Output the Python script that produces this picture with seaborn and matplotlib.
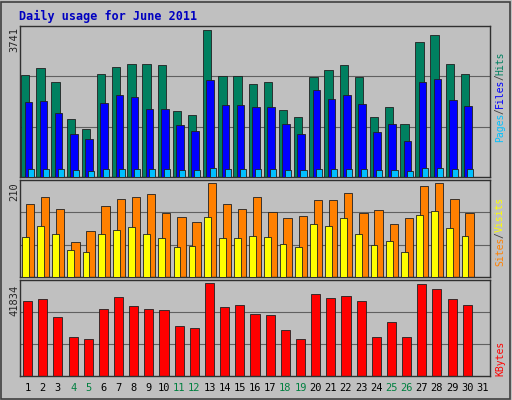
import numpy as np
import pandas as pd
import matplotlib
matplotlib.use('Agg')
import matplotlib.pyplot as plt
import seaborn as sns

days = [str(d) for d in range(1, 32)]
weekend = ['4', '5', '11', '12', '18', '19', '25', '26']

hits = [2611, 2790, 2432, 1485, 1229, 2637, 2816, 2893, 2893, 2867, 1690, 1587, 3741, 2586, 2586,
        2381, 2432, 1715, 1536, 2560, 2739, 2867, 2560, 1536, 1792, 1357, 3456, 3635, 2893, 2637]
files = [1920, 1946, 1638, 1101, 973, 1894, 2099, 2048, 1741, 1741, 1331, 1178, 2483, 1843, 1843,
         1792, 1792, 1357, 1101, 2227, 1997, 2099, 1869, 1152, 1357, 922, 2432, 2509, 1971, 1818]
pages = [200, 210, 195, 170, 160, 205, 215, 210, 200, 205, 180, 175, 230, 200, 205,
         195, 200, 180, 170, 210, 205, 215, 200, 170, 185, 160, 225, 230, 210, 200]
sites = [162, 178, 152, 78, 102, 159, 175, 178, 185, 143, 134, 122, 210, 162, 152,
         178, 145, 132, 136, 171, 171, 187, 143, 150, 118, 132, 203, 210, 173, 143]
visits = [90, 113, 97, 60, 55, 95, 104, 111, 97, 88, 67, 69, 134, 88, 88,
          92, 90, 74, 67, 118, 113, 132, 95, 72, 81, 55, 139, 148, 109, 92]
kbytes = [33480, 34410, 26505, 17670, 16740, 30225, 35340, 31620, 30225, 29760, 22320, 21390, 41834, 31155, 32085,
          27900, 27435, 20460, 16740, 36735, 34875, 35805, 33480, 17670, 24180, 17670, 41385, 39060, 34410, 32085]

sns.set_style('white')
plt.rcParams['font.family'] = ['DejaVu Sans Mono']
GREY = '#c0c0c0'
W, H = 512, 400
fig = plt.figure(figsize=(5.12, 4.0), dpi=100, facecolor=GREY)

# outer bevel
fig.patches.append(plt.Rectangle((1 / W, 1 / H), 1 - 3 / W, 1 - 3 / H, transform=fig.transFigure,
                                 fill=False, edgecolor='#404040', lw=1.2))
fig.text(19 / W, 1 - 16 / H, 'Daily usage for June 2011', color='#0000c0',
         fontsize=8.5, fontweight='bold', va='center')

x0, x1 = 20, 490
n = len(hits)
pos = np.arange(n)


def panel(top, bottom):
    ax = fig.add_axes([x0 / W, 1 - bottom / H, (x1 - x0) / W, (bottom - top) / H])
    ax.set_facecolor(GREY)
    ax.set_xlim(-0.5, 30.5)
    for s in ax.spines.values():
        s.set_color('#303030')
        s.set_linewidth(1)
    ax.set_xticks([])
    ax.set_yticks([])
    return ax


def grid(ax, top):
    ax.set_ylim(0, top * 1.03)
    for f in (1 / 3, 2 / 3):
        ax.axhline(top * 1.03 * f, color='#606060', lw=0.8, zorder=0)


ec = '#202020'
# top panel
ax1 = panel(26, 177)
grid(ax1, max(hits))
ax1.bar(pos - 0.15, hits, width=0.55, color='#008060', edgecolor=ec, lw=0.6, zorder=2)
ax1.bar(pos + 0.05, files, width=0.5, color='#0000ff', edgecolor=ec, lw=0.6, zorder=3)
ax1.bar(pos + 0.2, pages, width=0.4, color='#00c0ff', edgecolor=ec, lw=0.6, zorder=4)

# middle panel
ax2 = panel(180, 277)
grid(ax2, max(sites))
ax2.bar(pos + 0.15, sites, width=0.55, color='#ff8000', edgecolor=ec, lw=0.6, zorder=2)
ax2.bar(pos - 0.15, visits, width=0.45, color='#ffff00', edgecolor=ec, lw=0.6, zorder=3)

# bottom panel
ax3 = panel(280, 376)
grid(ax3, max(kbytes))
df = pd.DataFrame({'day': days[:n], 'kb': kbytes})
sns.barplot(data=df, x='day', y='kb', ax=ax3, color='#ff0000', saturation=1,
            width=0.6, edgecolor=ec, linewidth=0.6, zorder=2)
ax3.set_xlim(-0.5, 30.5)
ax3.set_xlabel('')
ax3.set_ylabel('')
ax3.set_xticks([])
ax3.set_yticks([])

# x labels
for i, d in enumerate(days):
    fig.text((x0 + (i + 0.5) * (x1 - x0) / 31) / W, 1 - 388 / H, d, ha='center', va='center',
             fontsize=7.5, color='#008040' if d in weekend else 'black')

# left max labels
for txt, y in ((str(max(hits)), 40), (str(max(sites)), 192), (str(max(kbytes)), 300)):
    fig.text(14 / W, 1 - y / H, txt, rotation=90, ha='center', va='center', fontsize=7.5)


def right_label(parts, ybottom):
    # drawn bottom-to-top, rotated 90
    y = ybottom
    for word, col in parts:
        fig.text(500 / W, 1 - y / H, word, rotation=90, ha='center', va='bottom',
                 fontsize=7, color=col, rotation_mode='default')
        y -= len(word) * 5.6


right_label([('Pages', '#00c0ff'), ('/', '#404040'), ('Files', '#0000ff'),
             ('/', '#404040'), ('Hits', '#008060')], 142)
right_label([('Sites', '#ff8000'), ('/', '#404040'), ('Visits', '#ffff00')], 266)
right_label([('KBytes', '#ff0000')], 376)

fig.savefig('out.png', dpi=100, facecolor=GREY)
